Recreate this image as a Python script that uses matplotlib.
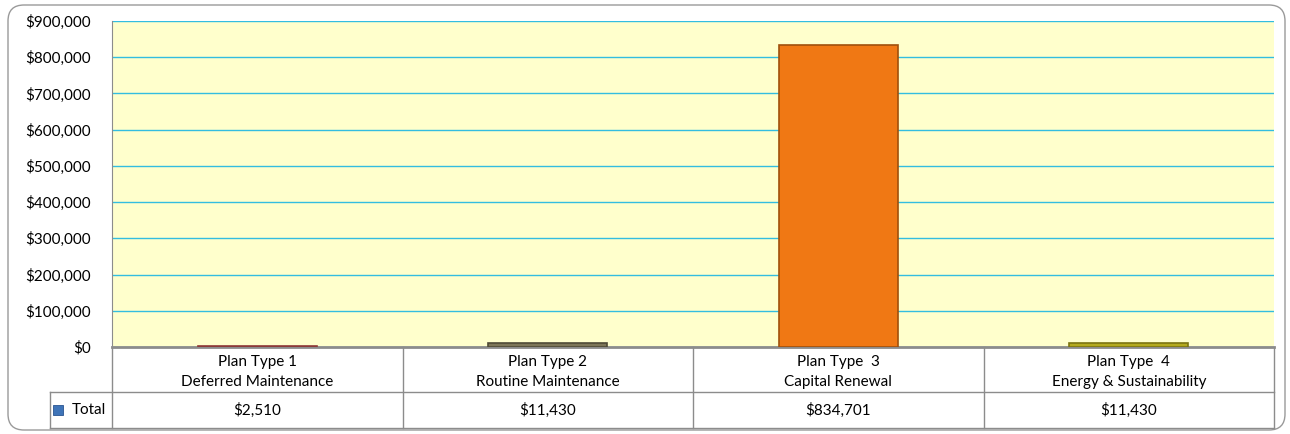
import numpy as np
import matplotlib.pyplot as plt
from matplotlib.patches import FancyBboxPatch, Rectangle
from matplotlib.ticker import FuncFormatter

plt.rcParams['font.family'] = ['Lato', 'DejaVu Sans']

categories = ['Plan Type 1\nDeferred Maintenance',
              'Plan Type 2\nRoutine Maintenance',
              'Plan Type  3\nCapital Renewal',
              'Plan Type  4\nEnergy & Sustainability']
totals = [2510, 11430, 834701, 11430]
bar_colors = ['#c0504d', '#7d7658', '#f07814', '#b4aa1e']
edge_colors = ['#8c3a38', '#4f4a36', '#a0500c', '#7c7410']

W, H = 1290, 434
fig = plt.figure(figsize=(W / 100, H / 100), dpi=100)

# rounded outer frame (inches)
frame = FancyBboxPatch((0.08, 0.04), 12.77, 4.25,
                       boxstyle='round,pad=0,rounding_size=0.16',
                       transform=fig.dpi_scale_trans, facecolor='none',
                       edgecolor='#9a9a9a', linewidth=1.0, zorder=-1)
fig.patches.append(frame)

ax_left, ax_right, ax_top, ax_bot = 112, 1274, 21, 347
ax = fig.add_axes([ax_left / W, (H - ax_bot) / H,
                   (ax_right - ax_left) / W, (ax_bot - ax_top) / H])
ax.set_facecolor('#ffffcc')

x = np.arange(len(totals))
ax.bar(x, totals, width=0.41, color=bar_colors, edgecolor=edge_colors,
       linewidth=1.2, zorder=3)

ax.set_xlim(-0.5, len(totals) - 0.5)
ax.set_ylim(0, 900000)
ax.set_yticks(np.arange(0, 900001, 100000))
ax.yaxis.set_major_formatter(FuncFormatter(lambda v, p: '${:,.0f}'.format(v)))
ax.tick_params(axis='y', length=0, pad=15, labelsize=11)
ax.set_xticks([])
ax.yaxis.grid(True, color='#33bde0', linewidth=1.0, zorder=1)
ax.set_axisbelow(True)

for s in ['top', 'right']:
    ax.spines[s].set_visible(False)
ax.spines['left'].set_color('#8c8c8c')
ax.spines['bottom'].set_color('#8c8c8c')
ax.spines['bottom'].set_linewidth(2.0)

# data table under the chart (axes coords)
ph = ax_bot - ax_top
pw = ax_right - ax_left
y_cat = -(392 - ax_bot) / ph
y_tot = -(428 - ax_bot) / ph
x_lab = -(ax_left - 50) / pw
lc = '#8c8c8c'
kw = dict(transform=ax.transAxes, clip_on=False, color=lc, linewidth=1.0)
n = len(totals)
for k in range(n + 1):
    ax.plot([k / n, k / n], [0, y_tot], **kw)
ax.plot([x_lab, x_lab], [y_cat, y_tot], **kw)
ax.plot([x_lab, 1], [y_cat, y_cat], **kw)
ax.plot([x_lab, 1], [y_tot, y_tot], **kw)

for k, (c, v) in enumerate(zip(categories, totals)):
    xc = (k + 0.5) / n
    ax.text(xc, y_cat / 2 - 2.5 / ph, c, transform=ax.transAxes, ha='center',
            va='center', fontsize=11, linespacing=1.6)
    ax.text(xc, (y_cat + y_tot) / 2, '${:,.0f}'.format(v),
            transform=ax.transAxes, ha='center', va='center', fontsize=11)

ax.text(x_lab + 22 / pw, (y_cat + y_tot) / 2, 'Total', transform=ax.transAxes,
        ha='left', va='center', fontsize=11)
ax.add_patch(Rectangle((x_lab + 3 / pw, (y_cat + y_tot) / 2 - 5 / ph),
                       10 / pw, 10 / ph, transform=ax.transAxes, clip_on=False,
                       facecolor='#3f74b8', edgecolor='#2a5490', linewidth=0.6))

fig.savefig('out.png', dpi=100)
